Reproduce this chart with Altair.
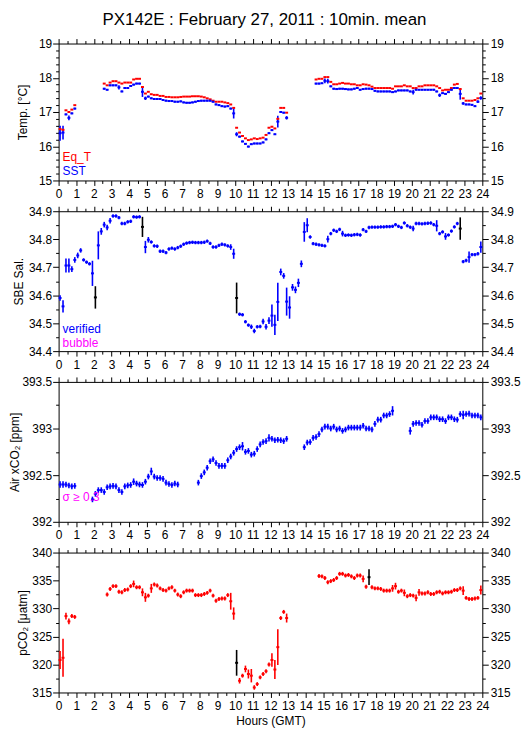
import altair as alt
import pandas as pd

FONT = "Liberation Sans"
BLUE = "#0000ff"
RED = "#ff0000"
BLACK = "#000000"
MAGENTA = "#ff00ff"
N = None

# 10-minute means, bin k covers [k*10min, (k+1)*10min)
sst = [16.38, 16.40, 16.93, 16.83, 16.96, 17.10, N, N, N, N, N, N, N, N, N,
       17.68, 17.65, 17.78, 17.78, 17.78, 17.72, 17.60, 17.70, 17.70, 17.76, 17.80, 17.83, 17.83, 17.59, 17.40,
       17.45, 17.40, 17.38, 17.38, 17.38, 17.35, 17.33, 17.32, 17.32, 17.30,
       17.30, 17.31, 17.28, 17.27, 17.27, 17.28, 17.30, 17.32, 17.33, 17.33,
       17.33, 17.33, 17.30, 17.22, 17.20, 17.17, 17.16, 17.17, 17.10, 16.96,
       16.35, 16.28, 16.14, 16.07, 15.99, 16.06, 16.08, 16.08, 16.08, 16.11,
       16.20, 16.38, 16.47, 16.35, 16.72, 17.00, 16.98, 16.83,
       N, N, N, N, N, N, N, N, N,
       17.83, 17.83, 17.84,
       17.91, 17.90, 17.75, 17.68, 17.67, 17.68, 17.68, 17.67, 17.66, 17.66,
       17.68, 17.70, 17.65, 17.67, 17.68, 17.68, 17.67, 17.62, 17.60, 17.60,
       17.60, 17.60, 17.60, 17.58, 17.60, 17.63, 17.63, 17.63, 17.63, 17.60,
       17.58, 17.65, 17.65, 17.65, 17.65, 17.65, 17.65, 17.65, 17.60, 17.49,
       17.55, 17.53, 17.58, 17.65, 17.70, 17.70, 17.53, 17.25, 17.22, 17.22,
       17.21, 17.17, 17.30, 17.41]
sst_err_default = 0.025
sst_err = {0: .22, 1: .2, 3: .07, 20: .06, 28: .15, 29: .05, 59: .15, 60: .06, 74: .17, 77: .05,
           90: .07, 91: .07, 120: .07, 129: .05, 136: .17, 137: .04, 142: .04, 143: .05}

eqt = [16.50, 16.48, 17.05, 17.00, 17.07, 17.20, N, N, N, N, N, N, N, N, N,
       17.83, 17.78, 17.86, 17.90, 17.90, 17.86, 17.83, 17.86, 17.86, 17.86, 17.95, 17.97, 17.97, 17.73, 17.54,
       17.59, 17.52, 17.50, 17.50, 17.47, 17.47, 17.44, 17.44, 17.43, 17.43,
       17.43, 17.44, 17.45, 17.45, 17.45, 17.46, 17.46, 17.46, 17.45, 17.43,
       17.40, 17.37, 17.33, 17.30, 17.30, 17.30, 17.28, 17.26, 17.22, 17.12,
       16.54, 16.40, 16.30, 16.23, 16.18, 16.20, 16.23, 16.21, 16.23, 16.25,
       16.33, 16.54, 16.57, 16.52, 16.80, 17.12, 17.12, 16.98,
       N, N, N, N, N, N, N, N, N,
       17.95, 17.97, 17.97,
       18.02, 18.02, 17.88, 17.81, 17.81, 17.83, 17.85, 17.83, 17.83, 17.81,
       17.81, 17.78, 17.78, 17.81, 17.80, 17.78, 17.74, 17.70, 17.70, 17.70,
       17.70, 17.70, 17.70, 17.68, 17.75, 17.75, 17.75, 17.78, 17.75, 17.75,
       17.70, 17.70, 17.75, 17.75, 17.78, 17.78, 17.78, 17.78, 17.75, 17.70,
       17.63, 17.65, 17.65, 17.70, 17.80, 17.82, 17.67, 17.40, 17.33, 17.33,
       17.33, 17.35, 17.40, 17.54]

sal = [34.590, 34.560, 34.706, 34.706, 34.693, 34.726, 34.742, 34.760, 34.726, 34.718,
       34.712, 34.678, 34.592, 34.778, 34.828, 34.852, 34.842, 34.866, 34.883, 34.883,
       34.877, 34.856, 34.856, 34.862, 34.864, 34.880, 34.879, 34.880, 34.844, 34.772,
       34.798, 34.790, 34.776, 34.775, 34.757, 34.757, 34.752, 34.765, 34.768, 34.765,
       34.770, 34.775, 34.782, 34.786, 34.788, 34.789, 34.788, 34.788, 34.788, 34.789,
       34.793, 34.785, 34.772, 34.772, 34.778, 34.782, 34.780, 34.776, 34.772, 34.748,
       34.590, 34.532, 34.530, 34.505, 34.493, 34.487, 34.472, 34.487, 34.488, 34.506,
       34.487, 34.509, 34.527, 34.494, 34.576, 34.683, 34.669, 34.577, 34.556, 34.628,
       34.619, 34.644, 34.712, 34.826, 34.850, 34.808, 34.784, 34.782, 34.780, 34.778,
       34.776, 34.800, 34.820, 34.832, 34.828, 34.835, 34.820, 34.814, 34.815, 34.814,
       34.816, 34.817, 34.815, 34.834, 34.828, 34.842, 34.843, 34.843, 34.843, 34.844,
       34.844, 34.845, 34.845, 34.846, 34.852, 34.846, 34.842, 34.858, 34.848, 34.843,
       34.838, 34.856, 34.856, 34.855, 34.856, 34.857, 34.858, 34.852, 34.848, 34.820,
       34.826, 34.810, 34.815, 34.829, 34.844, 34.856, 34.838, 34.720, 34.724, 34.736,
       34.745, 34.745, 34.748, 34.772]
sal_err_default = 0.006
sal_err = {0: .01, 1: .022, 2: .025, 3: .025, 4: .01, 5: .01, 6: .01, 7: .008, 11: .045, 12: .04,
           13: .05, 14: .012, 15: .01, 16: .01, 17: .01, 28: .036, 29: .022, 30: .01, 58: .01, 59: .018,
           60: .055, 65: .008, 66: .008, 69: .01, 70: .01, 71: .012, 72: .04, 73: .036, 74: .068,
           75: .012, 76: .01, 77: .05, 78: .04, 79: .012, 80: .012, 81: .015, 82: .012, 83: .035,
           84: .025, 91: .012, 96: .01, 120: .01, 128: .02, 131: .012, 136: .04, 139: .02, 143: .02}
sal_flag = [12, 28, 60, 136]

air = [392.40, 392.40, 392.40, 392.39, 392.38, 392.385, N, N, N, N, N,
       392.24, 392.30, 392.34, 392.34, 392.32, 392.37, 392.38, 392.385, 392.38,
       392.34, 392.32, 392.38, 392.39, 392.395, 392.43, 392.41, 392.40, 392.395, 392.43,
       392.485, 392.54, 392.485, 392.47, 392.47, 392.46, 392.42, 392.405, 392.395, 392.41,
       392.40, N, N, N, N, N, N, 392.42, 392.49, 392.53,
       392.58, 392.65, 392.67, 392.63, 392.60, 392.60, 392.60, 392.66, 392.70, 392.74,
       392.78, 392.80, 392.81, 392.75, 392.76, 392.72, 392.73, 392.78, 392.83, 392.855,
       392.865, 392.90, 392.89, 392.875, 392.88, 392.875, 392.865, 392.89,
       N, N, N, N, N,
       392.80, 392.85, 392.855, 392.90, 392.91, 392.94, 392.99,
       393.02, 393.02, 393.00, 393.02, 392.99, 393.00, 392.975, 392.99, 393.01, 393.01,
       393.01, 393.01, 393.01, 393.03, 393.00, 393.00, 392.99, 393.05, 393.095, 393.095,
       393.14, 393.14, 393.155, 393.19, N, N, N, N, N, 392.975,
       393.05, 393.06, 393.06, 393.04, 393.08, 393.08, 393.12, 393.12, 393.12, 393.10,
       393.10, 393.08, 393.12, 393.12, 393.10, 393.095, 393.155, 393.145, 393.155, 393.16,
       393.14, 393.14, 393.14, 393.12]
air_err_default = 0.03
air_err = {0: .035, 1: .035, 25: .035, 31: .04, 62: .045, 71: .04, 113: .05, 119: .04, 137: .045}

pco2 = [320.8, 321.2, 328.65, 327.7, 328.65, 328.5, N, N, N, N, N, N, N, N, N, N,
        332.5, 333.5, 334.0, 334.0,
        333.0, 332.9, 333.3, 333.4, 334.0, 334.4, 333.8, 333.8, 332.9, 332.0,
        332.3, 333.6, 334.3, 334.1, 333.6, 333.3, 333.2, 333.6, 333.8, 333.2,
        332.5, 332.2, 332.9, 333.2, 333.2, 333.2, 332.4, 332.4, 332.4, 332.6,
        332.8, 333.2, 332.3, 331.4, 331.7, 331.8, 331.8, 332.4, 331.3, 329.1,
        320.3, 317.1, 318.0, 319.2, 318.3, 318.0, 315.9, 316.5, 317.7, 318.3,
        318.8, 320.0, 320.8, 319.1, 323.1, 328.3, 329.4, 328.3,
        N, N, N, N, N, N, N, N, N, N,
        335.8, 335.75,
        335.45, 334.7, 334.9, 335.1, 335.45, 336.2, 336.2, 335.9, 336.0, 335.75,
        335.45, 335.9, 335.9, 335.3, 333.9, 335.6, 333.8, 333.6, 333.6, 333.5,
        333.2, 333.2, 333.2, 333.6, 334.0, 333.0, 333.2, 332.8, 332.2, 332.4,
        332.3, 331.9, 332.9, 332.7, 332.7, 332.9, 332.6, 332.6, 332.9, 333.0,
        332.7, 332.9, 332.9, 333.0, 333.3, 333.3, 333.6, 333.2, 331.9, 331.7,
        331.7, 331.8, 331.9, 333.3]
pco2_err_default = 0.35
pco2_err = {0: 1.6, 1: 3.4, 2: .6, 3: .5, 25: .6, 28: .7, 29: .8, 31: .8, 58: 1.5, 59: 1.1, 60: 2.3,
            61: .5, 63: .6, 64: .8, 65: 1.2, 66: .4, 72: 1.2, 73: 1.7, 74: 3.2, 77: .8, 103: .6,
            105: 1.4, 113: .6, 114: .6, 117: .6, 121: .6, 122: .6, 137: .8, 143: .8}
pco2_flag = [60, 105]

hour_ticks = [i * 0.5 for i in range(49)]


def rows(values, color, err_default=0.0, err_over=None, flags=()):
    err_over = err_over or {}
    out = []
    for k, v in enumerate(values):
        if v is None:
            continue
        e = err_over.get(k, err_default)
        out.append(dict(t=(k + 0.5) / 6, t0=k / 6, t1=(k + 1) / 6, v=v,
                        lo=v - e, hi=v + e, c=BLACK if k in flags else color))
    return out


def major_test(step):
    return f"abs(datum.value/{step} - round(datum.value/{step})) < 1e-6"


def tick_cond(step, big, small):
    return {"condition": {"test": major_test(step), "value": big}, "value": small}


def panel(df, ydom, ymajor, yminor, ytitle, title_x, h, xtitle=None, texts=()):
    n = int(round((ydom[1] - ydom[0]) / yminor))
    yvals = [round(ydom[0] + i * yminor, 4) for i in range(n + 1)]
    xs = alt.Scale(domain=[0, 24], nice=False, zero=False)
    ys = alt.Scale(domain=ydom, nice=False, zero=False)
    ylab = f"{major_test(ymajor)} ? format(datum.value, '~g') : ''"
    xlab = f"{major_test(1)} ? format(datum.value, 'd') : ''"
    bottom = dict(orient="bottom", values=hour_ticks, labelExpr=xlab, labelOverlap=False,
                  labelFlush=False, tickSize=tick_cond(1, 5, 3), labelPadding=3, grid=False)
    if xtitle:
        bottom.update(title=xtitle, titlePadding=4)
    else:
        bottom.update(title=None)
    ax_bottom = alt.Axis(**bottom)
    ax_top = alt.Axis(orient="top", values=hour_ticks, labels=False, tickSize=tick_cond(1, 5, 3),
                      title=None, grid=False)
    ax_left = alt.Axis(orient="left", values=yvals, labelExpr=ylab, labelOverlap=False,
                       labelFlush=False, tickSize=tick_cond(ymajor, 6, 3), title=ytitle,
                       labelPadding=1, titleX=title_x, titleY=h / 2, grid=False)
    ax_right = alt.Axis(orient="right", values=yvals, labelExpr=ylab, labelOverlap=False,
                        labelFlush=False, tickSize=tick_cond(ymajor, 6, 3), title=None,
                        labelPadding=2, grid=False)
    base = alt.Chart(df)
    vert = base.mark_rule(strokeWidth=1.6).encode(
        x=alt.X("t:Q", scale=xs, axis=ax_bottom),
        y=alt.Y("lo:Q", scale=ys, axis=ax_left),
        y2="hi:Q",
        color=alt.Color("c:N", scale=None),
    )
    horiz = base.mark_rule(strokeWidth=2).encode(
        x=alt.X("t0:Q", scale=xs, axis=ax_top),
        x2="t1:Q",
        y=alt.Y("v:Q", scale=ys, axis=ax_right),
        color=alt.Color("c:N", scale=None),
    )
    layers = [vert, horiz]
    for txt, col, ypix in texts:
        layers.append(
            alt.Chart(pd.DataFrame({"a": [0]})).mark_text(
                align="left", baseline="alphabetic", fontSize=12, font=FONT, color=col
            ).encode(x=alt.value(4), y=alt.value(ypix), text=alt.value(txt))
        )
    return alt.layer(*layers).resolve_axis(x="independent", y="independent").properties(
        width=427, height=h)


df1 = pd.DataFrame(rows(eqt, RED) + rows(sst, BLUE, sst_err_default, sst_err))
df2 = pd.DataFrame(rows(sal, BLUE, sal_err_default, sal_err, sal_flag))
df3 = pd.DataFrame(rows(air, BLUE, air_err_default, air_err))
df4 = pd.DataFrame(rows(pco2, RED, pco2_err_default, pco2_err, pco2_flag))

p1 = panel(df1, [15, 19], 1, 0.2, "Temp. [°C]", -29, 138,
           texts=[("Eq_T", RED, 118), ("SST", BLUE, 132)])
p2 = panel(df2, [34.4, 34.9], 0.1, 0.05, "SBE Sal.", -33, 141,
           texts=[("verified", BLUE, 123), ("bubble", MAGENTA, 137)])
p3 = panel(df3, [392, 393.5], 0.5, 0.25, "Air xCO₂ [ppm]", -37, 141,
           texts=[("σ ≥ 0.3", MAGENTA, 120)])
p4 = panel(df4, [315, 340], 5, 2.5, "pCO₂ [μatm]", -29, 141, xtitle="Hours (GMT)")

chart = alt.vconcat(p1, p2, p3, p4, spacing=31, bounds="flush").properties(
    title=alt.TitleParams("PX142E : February 27, 2011 : 10min. mean", font=FONT, fontSize=17,
                          fontWeight="normal", anchor="middle", offset=9, color="black"),
    padding={"left": 0, "top": 0, "right": 0, "bottom": 0},
).configure_axis(
    labelFont=FONT, titleFont=FONT, labelFontSize=12, titleFontSize=12, titleFontWeight="normal",
    domainColor="black", tickColor="black", labelColor="black", titleColor="black",
    domainWidth=1, tickWidth=1,
).configure_view(stroke=None)

chart.save("out.html", embed_options={"renderer": "svg", "actions": False})
